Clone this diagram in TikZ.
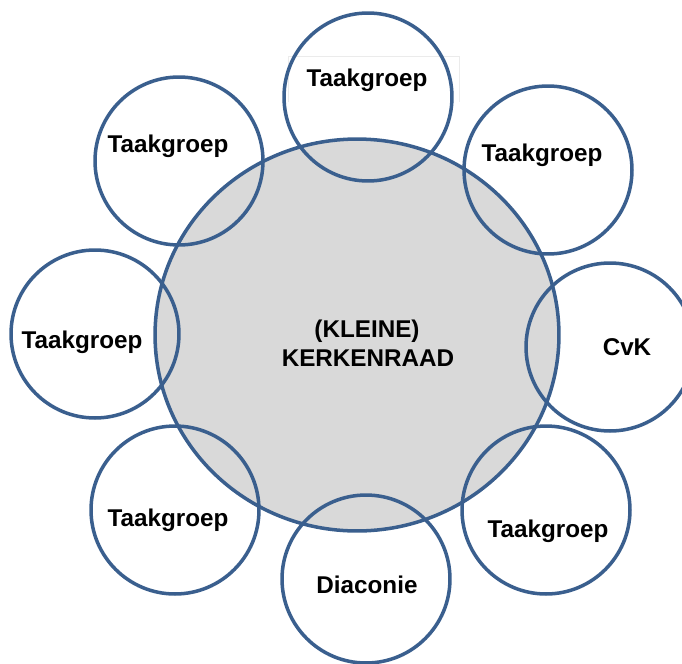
\documentclass[tikz,border=0pt]{standalone}
\usepackage{fontspec}
\setmainfont{Liberation Sans}
\usepackage{tikz}
\usetikzlibrary{shapes.geometric}
\definecolor{kringblauw}{HTML}{3A5F8E}
\definecolor{kringgrijs}{HTML}{D9D9D9}
\tikzset{kring/.style = {circle, draw=kringblauw, line width=2pt, minimum size=3.36cm, inner sep=0pt},
         groep/.style = {anchor=base, font=\fontsize{13.8}{16}\selectfont\bfseries, inner sep=0pt}}

\begin{document}
\begin{tikzpicture}[x=0.02cm, y=-0.02cm]
    \useasboundingbox (0,0) rectangle (682,663);
    % kerkenraad in het midden
    \node[ellipse, draw=kringblauw, fill=kringgrijs, line width=2pt, minimum width=8.08cm, minimum height=7.84cm, inner sep=0pt] (kr) at (357,335) {};
    \node[rectangle, minimum width=3.4cm, minimum height=0.9cm, inner sep=0pt] (kader) at (374,79.5) {};
    \draw[black!8, line width=0.6pt] (kader.south west) |- (kader.north east) -- (kader.south east);
    % de kringen
    \node[kring] (k1) at (368,97) {};
    \node[kring] (k2) at (548,170) {};
    \node[kring] (k3) at (610,347) {};
    \node[kring] (k4) at (546,510) {};
    \node[kring] (k5) at (366,579) {};
    \node[kring] (k6) at (175,510) {};
    \node[kring] (k7) at (95,334) {};
    \node[kring] (k8) at (179,161) {};
    % teksten
    \node[groep] (t1) at (367,86) {Taakgroep};
    \node[groep] (t2) at (542,161) {Taakgroep};
    \node[groep] (t3) at (627,355) {CvK};
    \node[groep] (t4) at (548,537) {Taakgroep};
    \node[groep] (t5) at (367,593) {Diaconie};
    \node[groep] (t6) at (168,526) {Taakgroep};
    \node[groep] (t7) at (82,348) {Taakgroep};
    \node[groep] (t8) at (168,152) {Taakgroep};
    \node[groep] (t0) at (367,337) {(KLEINE)};
    \node[groep] (t9) at (368,366) {KERKENRAAD};
\end{tikzpicture}
\end{document}
